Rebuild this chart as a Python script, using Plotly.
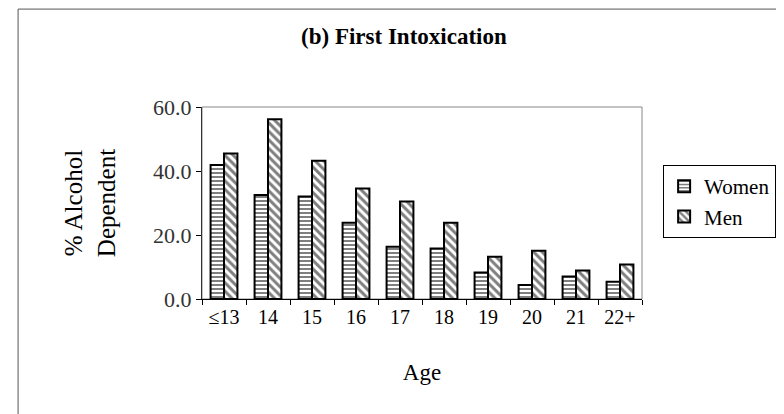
import plotly.graph_objects as go

ages = ["≤13", "14", "15", "16", "17", "18", "19", "20", "21", "22+"]
women = [41.9, 32.5, 32.0, 23.8, 16.3, 15.8, 8.3, 4.4, 7.0, 5.4]
men = [45.5, 56.2, 43.2, 34.5, 30.5, 23.8, 13.2, 15.1, 8.9, 10.8]
y_ticks = [0, 20, 40, 60]

SERIF = "Liberation Serif, Times New Roman, serif"

fig = go.Figure()
fig.add_trace(go.Bar(
    x=ages, y=women, name="Women",
    marker=dict(color="white", line=dict(color="black", width=2),
                pattern=dict(shape="-", fgcolor="black", bgcolor="white", size=4, solidity=0.5)),
))
fig.add_trace(go.Bar(
    x=ages, y=men, name="Men",
    marker=dict(color="white", line=dict(color="black", width=2),
                pattern=dict(shape="\\", fgcolor="black", bgcolor="white", size=6, solidity=0.5)),
))

fig.update_layout(
    width=784, height=414,
    margin=dict(l=194, r=150, t=99, b=123),
    paper_bgcolor="white", plot_bgcolor="white",
    barmode="group", bargap=0.39, bargroupgap=0,
    font=dict(family=SERIF, color="black"),
    title=dict(text="<b>(b) First Intoxication</b>", x=0.505, xanchor="center",
               y=0.932, yanchor="middle", font=dict(family=SERIF, size=23, color="black")),
    xaxis=dict(
        type="category", showline=True, linecolor="black", linewidth=1,
        ticks="outside", tickson="boundaries", ticklen=5, tickcolor="black",
        tickfont=dict(family=SERIF, size=20), showgrid=False,
        title=dict(text="Age", font=dict(family=SERIF, size=23), standoff=36),
    ),
    yaxis=dict(
        range=[0, 60], tickvals=y_ticks, tickformat=".1f",
        showline=True, linecolor="#333", linewidth=1,
        ticks="outside", ticklen=5, tickcolor="black",
        tickfont=dict(family=SERIF, size=22, color="#333"), showgrid=False, zeroline=False,
        title=dict(text="% Alcohol<br>Dependent", font=dict(family=SERIF, size=25), standoff=30),
    ),
    legend=dict(
        x=1.048, xanchor="left", y=0.698, yanchor="top",
        bordercolor="black", borderwidth=1, bgcolor="white",
        font=dict(family=SERIF, size=21), itemsizing="constant",
        tracegroupgap=11,
    ),
    shapes=[
        dict(type="rect", xref="paper", yref="paper", x0=0, x1=1, y0=0, y1=1,
             line=dict(color="#888", width=1), layer="below"),
        dict(type="rect", xref="paper", yref="paper", x0=-0.418, x1=1.316, y0=-0.75, y1=1.51,
             line=dict(color="#555", width=1), layer="below"),
    ],
)

fig.write_html("out.html")
